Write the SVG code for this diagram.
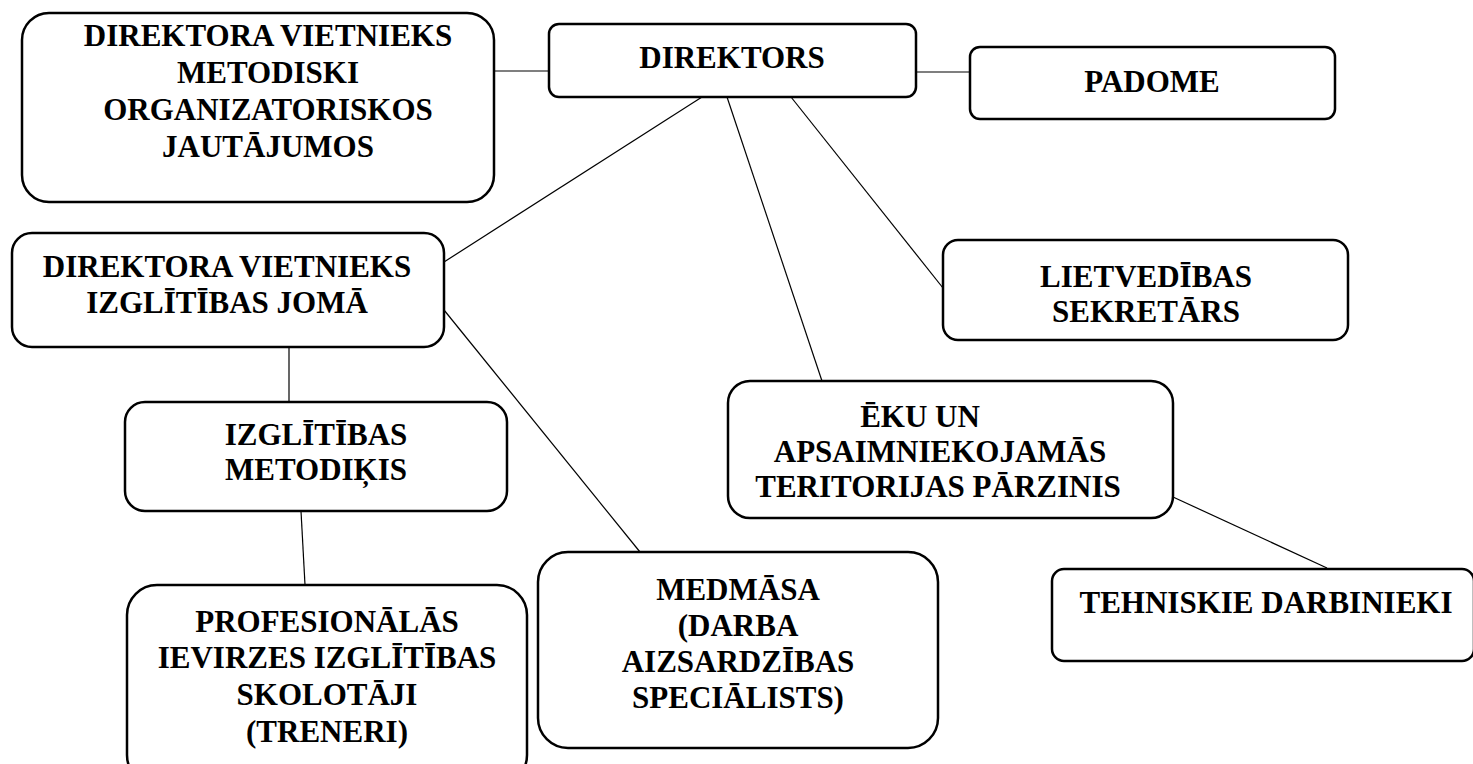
<svg xmlns="http://www.w3.org/2000/svg" width="1473" height="764" viewBox="0 0 1473 764">
<style>
.box{fill:#fff;stroke:#000;stroke-width:2.5}
.t{font-family:"Liberation Serif","Times New Roman",serif;font-weight:bold;font-size:31px;fill:#000;text-anchor:middle}
.c{stroke:#000;stroke-width:1.2;fill:none}
</style>
<rect width="1473" height="764" fill="#fff"/>
<g id="connectors">
<line class="c" x1="494" y1="71" x2="549" y2="71"/>
<line class="c" x1="916" y1="72" x2="970" y2="72"/>
<line class="c" x1="702" y1="97" x2="444" y2="262"/>
<line class="c" x1="727" y1="97" x2="822" y2="381"/>
<line class="c" x1="791" y1="97" x2="943" y2="288"/>
<line class="c" x1="444" y1="310" x2="640" y2="552"/>
<line class="c" x1="289" y1="347" x2="289" y2="402"/>
<line class="c" x1="301" y1="511" x2="305" y2="585"/>
<line class="c" x1="1173" y1="497" x2="1327" y2="568"/>
</g>
<g id="n_vietnieks_metod">
<rect class="box" x="22" y="13" width="472" height="189" rx="27"/>
<text class="t" x="268" y="46">DIREKTORA VIETNIEKS</text>
<text class="t" x="268" y="83">METODISKI</text>
<text class="t" x="268" y="120">ORGANIZATORISKOS</text>
<text class="t" x="268" y="157">JAUTĀJUMOS</text>
</g>
<g id="n_direktors">
<rect class="box" x="549" y="24" width="367" height="73" rx="10"/>
<text class="t" x="732" y="68">DIREKTORS</text>
</g>
<g id="n_padome">
<rect class="box" x="970" y="47" width="365" height="72" rx="10"/>
<text class="t" x="1152" y="92">PADOME</text>
</g>
<g id="n_lietvedibas">
<rect class="box" x="943" y="240" width="405" height="100" rx="15"/>
<text class="t" x="1146" y="287">LIETVEDĪBAS</text>
<text class="t" x="1146" y="322">SEKRETĀRS</text>
</g>
<g id="n_vietnieks_izgl">
<rect class="box" x="12" y="233" width="432" height="114" rx="20"/>
<text class="t" x="227" y="277">DIREKTORA VIETNIEKS</text>
<text class="t" x="227" y="313">IZGLĪTĪBAS JOMĀ</text>
</g>
<g id="n_metodikis">
<rect class="box" x="125" y="402" width="382" height="109" rx="20"/>
<text class="t" x="316" y="445">IZGLĪTĪBAS</text>
<text class="t" x="316" y="480">METODIĶIS</text>
</g>
<g id="n_eku">
<rect class="box" x="728" y="381" width="445" height="137" rx="22"/>
<text class="t" x="920" y="427">ĒKU UN</text>
<text class="t" x="940" y="462">APSAIMNIEKOJAMĀS</text>
<text class="t" x="938" y="497">TERITORIJAS PĀRZINIS</text>
</g>
<g id="n_medmasa">
<rect class="box" x="538" y="552" width="400" height="196" rx="30"/>
<text class="t" x="738" y="600">MEDMĀSA</text>
<text class="t" x="738" y="636">(DARBA</text>
<text class="t" x="738" y="672">AIZSARDZĪBAS</text>
<text class="t" x="738" y="708">SPECIĀLISTS)</text>
</g>
<g id="n_profesionalas">
<rect class="box" x="127" y="585" width="400" height="200" rx="30"/>
<text class="t" x="327" y="632">PROFESIONĀLĀS</text>
<text class="t" x="327" y="668">IEVIRZES IZGLĪTĪBAS</text>
<text class="t" x="327" y="705">SKOLOTĀJI</text>
<text class="t" x="327" y="742">(TRENERI)</text>
</g>
<g id="n_tehniskie">
<rect class="box" x="1052" y="569" width="422" height="92" rx="12"/>
<text class="t" x="1266" y="613">TEHNISKIE DARBINIEKI</text>
</g>
</svg>
